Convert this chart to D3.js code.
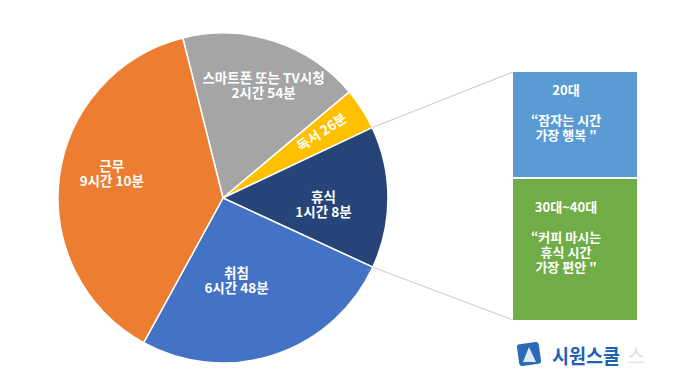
<!DOCTYPE html>
<html><head><meta charset="utf-8">
<script src="https://cdn.jsdelivr.net/npm/d3@7"></script>
<style>html,body{margin:0;padding:0;background:#fff;}svg{display:block;}</style>
</head><body>
<svg id="chart" width="680" height="383"></svg>
<script>
// ---- data ----
const categories = ["스마트폰 또는 TV시청", "독서", "휴식", "취침", "근무"];
const timeLabels = ["2시간 54분", "26분", "1시간 8분", "6시간 48분", "9시간 10분"];
const shares = [17.8, 4.1, 13.9, 26.1, 38.1];
const ageGroups = ["20대", "30대~40대"];
const quotes = [["“잠자는 시간", "가장 행복 \""], ["“커피 마시는", "휴식 시간", "가장 편안 \""]];

// ---- layout / style ----
const colors = ["#a5a5a5", "#ffc000", "#264478", "#4472c4", "#ed7d31"];
const boxColors = ["#5b9bd5", "#70ad47"];
const cx = 223, cy = 198, R = 165;
const startDeg = -14.1;
// label placement (radius fraction, angle tweak in degrees)
const labelLayout = [[0.72, 2], [0.72, -1], [0.61, 4], [0.51, 9], [0.69, 5]];
const font = "'Noto Sans CJK KR','Noto Sans',sans-serif";
const fs = 13.5;

const svg = d3.select("#chart");
const data = categories.map((c, i) => ({cat: c, time: timeLabels[i], v: shares[i], i}));
const pie = d3.pie().value(d => d.v).sort(null)
  .startAngle(startDeg * Math.PI / 180).endAngle(startDeg * Math.PI / 180 + 2 * Math.PI);
const arcs = pie(data);
const arc = d3.arc().innerRadius(0).outerRadius(R);

const g = svg.append("g").attr("transform", `translate(${cx},${cy})`);
g.selectAll("path").data(arcs).join("path")
  .attr("d", arc).attr("fill", d => colors[d.data.i])
  .attr("stroke", "#fff").attr("stroke-width", 1.5).attr("stroke-linejoin", "round");

// labels
arcs.forEach(a => {
  const [f, tweak] = labelLayout[a.data.i];
  const ang = (a.startAngle + a.endAngle) / 2 + tweak * Math.PI / 180;
  const x = Math.sin(ang) * R * f, y = -Math.cos(ang) * R * f;
  const base = {fill: "#fff", "font-family": font, "font-weight": 700, "font-size": fs, "text-anchor": "middle"};
  if (a.data.cat === "독서") {
    const rot = (ang * 180 / Math.PI) - 90;
    const t = g.append("text").attr("transform", `translate(${x},${y}) rotate(${rot})`)
      .attr("dy", "0.35em").text(a.data.cat + " " + a.data.time);
    Object.entries(base).forEach(([k, v]) => t.attr(k, v));
  } else {
    [a.data.cat, a.data.time].forEach((s, j) => {
      const t = g.append("text").attr("x", x).attr("y", y - 3 + j * 15).text(s);
      Object.entries(base).forEach(([k, v]) => t.attr(k, v));
    });
  }
});

// callout boxes
const bx = 513, bw = 124;
const boxY = [72, 179], boxH = [105, 141];
const hue = arcs[2];
const p1 = [cx + Math.sin(hue.startAngle) * R, cy - Math.cos(hue.startAngle) * R];
const p2 = [cx + Math.sin(hue.endAngle) * R, cy - Math.cos(hue.endAngle) * R];
svg.append("line").attr("x1", p1[0]).attr("y1", p1[1]).attr("x2", bx).attr("y2", boxY[0])
  .attr("stroke", "#c8c8c8").attr("stroke-width", 1);
svg.append("line").attr("x1", p2[0]).attr("y1", p2[1]).attr("x2", bx).attr("y2", boxY[1] + boxH[1])
  .attr("stroke", "#c8c8c8").attr("stroke-width", 1);

ageGroups.forEach((ag, k) => {
  svg.append("rect").attr("x", bx).attr("y", boxY[k]).attr("width", bw).attr("height", boxH[k])
    .attr("fill", boxColors[k]);
  const tx = 566;
  const y0 = k === 0 ? 95 : 212;
  const lines = [[ag, y0]].concat(quotes[k].map((q, j) => [q, y0 + 30 + j * 15]));
  lines.forEach(([s, yy]) => {
    svg.append("text").attr("x", tx).attr("y", yy).attr("fill", "#fff").attr("font-family", font)
      .attr("font-weight", 700).attr("font-size", 13).attr("text-anchor", "middle").text(s);
  });
});

// watermark logo
const wm = svg.append("g");
wm.append("rect").attr("x", 518).attr("y", 343).attr("width", 22).attr("height", 22).attr("rx", 3)
  .attr("fill", "#2a6ab8").attr("transform", "rotate(-8,529,354)");
wm.append("path").attr("d", "M523,362 L529,347 L536,362 Z").attr("fill", "#dfe9f5");
wm.append("text").attr("x", 552).attr("y", 364).attr("font-family", font).attr("font-weight", 700)
  .attr("font-size", 20).attr("fill", "#1f62b4").attr("textLength", 68).attr("lengthAdjust", "spacingAndGlyphs")
  .text("시원스쿨");
wm.append("text").attr("x", 627).attr("y", 364).attr("font-family", font).attr("font-weight", 400)
  .attr("font-size", 20).attr("fill", "#e2e2e2").text("스");
</script>
</body></html>
